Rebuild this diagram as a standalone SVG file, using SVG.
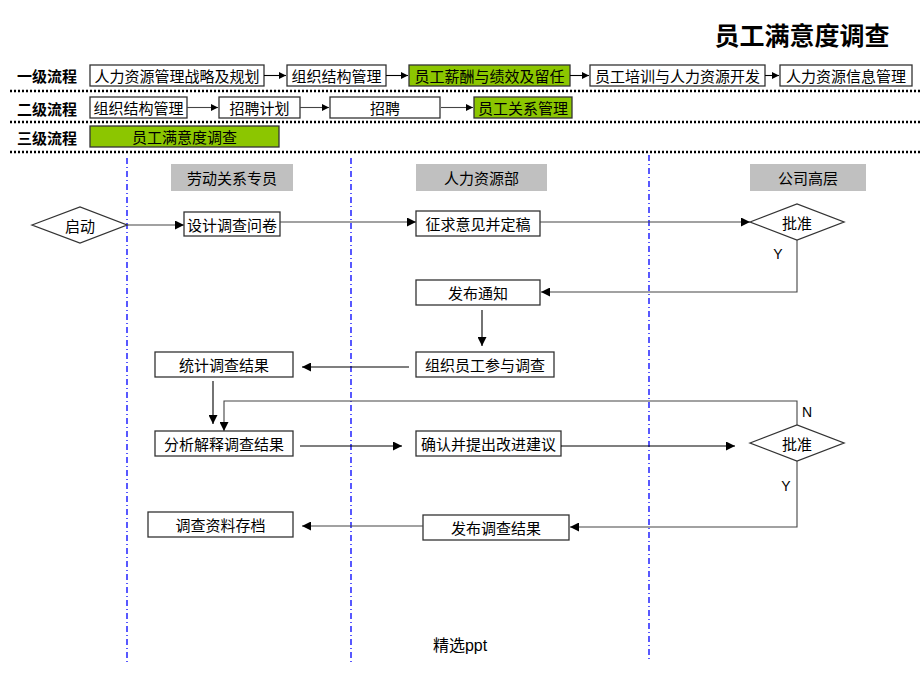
<svg xmlns="http://www.w3.org/2000/svg" width="920" height="690" viewBox="0 0 920 690">
<defs>
<marker id="ah" viewBox="0 0 10 10" refX="10" refY="5" markerWidth="7" markerHeight="7" markerUnits="userSpaceOnUse" orient="auto"><path d="M0,0L10,5L0,10z" fill="#000"/></marker>
<marker id="ah2" viewBox="0 0 10 10" refX="10" refY="5" markerWidth="9" markerHeight="9" markerUnits="userSpaceOnUse" orient="auto"><path d="M0,0L10,5L0,10z" fill="#000"/></marker>
<style>
text{font-family:"Liberation Sans","Noto Sans CJK SC",sans-serif;fill:#000}
.cn{font-family:"Noto Sans CJK SC","Liberation Sans",sans-serif;font-size:15px;text-anchor:middle;dominant-baseline:central}
.lbl{font-family:"Noto Sans CJK SC",sans-serif;font-size:15px;font-weight:bold;dominant-baseline:central}
.box{fill:#fff;stroke:#333;stroke-width:1.3}
.grn{fill:#8cc600;stroke:#333;stroke-width:1.3}
.hdr{fill:#c0c0c0;stroke:none}
.dot{stroke:#000;stroke-width:2.5;stroke-dasharray:2 2}
.lane{stroke:#0000ff;stroke-width:1.3;stroke-dasharray:6 3 1 3}
.ln{fill:none;stroke:#000;stroke-width:1.1}
.ln2{fill:none;stroke:#444;stroke-width:1.1}
.yn{font-family:"Liberation Sans",sans-serif;font-size:14px;text-anchor:middle;dominant-baseline:central}
</style>
</defs>
<rect width="920" height="690" fill="#fff"/>
<text x="802" y="36" font-family="Noto Sans CJK SC,sans-serif" font-size="25" font-weight="bold" text-anchor="middle" dominant-baseline="central">员工满意度调查</text>

<g id="levels">
<text class="lbl" x="17" y="75">一级流程</text>
<text class="lbl" x="17" y="108">二级流程</text>
<text class="lbl" x="17" y="137">三级流程</text>
<line class="dot" x1="10" y1="91" x2="920" y2="91"/>
<line class="dot" x1="10" y1="122" x2="920" y2="122"/>
<line class="dot" x1="10" y1="152" x2="920" y2="152"/>
</g>

<g id="l1-1"><rect class="box" x="90" y="65" width="174" height="21"/><text class="cn" x="177" y="75.5">人力资源管理战略及规划</text></g>
<g id="l1-2"><rect class="box" x="287" y="65" width="99" height="21"/><text class="cn" x="336.5" y="75.5">组织结构管理</text></g>
<g id="l1-3"><rect class="grn" x="409" y="65" width="161" height="21"/><text class="cn" x="489.5" y="75.5">员工薪酬与绩效及留任</text></g>
<g id="l1-4"><rect class="box" x="590" y="65" width="175" height="21"/><text class="cn" x="677.5" y="75.5">员工培训与人力资源开发</text></g>
<g id="l1-5"><rect class="box" x="780" y="65" width="132" height="21"/><text class="cn" x="846" y="75.5">人力资源信息管理</text></g>

<g id="l2-1"><rect class="box" x="90" y="97" width="97" height="21"/><text class="cn" x="138.5" y="107.5">组织结构管理</text></g>
<g id="l2-2"><rect class="box" x="219" y="97" width="81" height="21"/><text class="cn" x="259.5" y="107.5">招聘计划</text></g>
<g id="l2-3"><rect class="box" x="330" y="97" width="110" height="21"/><text class="cn" x="385" y="107.5">招聘</text></g>
<g id="l2-4"><rect class="grn" x="474" y="97" width="98" height="21"/><text class="cn" x="523" y="107.5">员工关系管理</text></g>

<g id="l3-1"><rect class="grn" x="90" y="126" width="189" height="21"/><text class="cn" x="184.5" y="136.5">员工满意度调查</text></g>

<g id="lanes">
<line class="lane" x1="127" y1="158" x2="127" y2="662"/>
<line class="lane" x1="351" y1="158" x2="351" y2="662"/>
<line class="lane" x1="649" y1="155" x2="649" y2="662"/>
</g>

<g id="h1"><rect class="hdr" x="171" y="164" width="122" height="27"/><text class="cn" x="232" y="177.5" font-size="14">劳动关系专员</text></g>
<g id="h2"><rect class="hdr" x="416" y="164" width="131" height="27"/><text class="cn" x="481.5" y="177.5" font-size="14">人力资源部</text></g>
<g id="h3"><rect class="hdr" x="750" y="164" width="116" height="27"/><text class="cn" x="808" y="177.5" font-size="14">公司高层</text></g>

<g id="start"><polygon class="box" points="32,225 80,207 127,225 80,243"/><text class="cn" x="80" y="225">启动</text></g>
<g id="design"><rect class="box" x="184" y="212" width="96" height="24"/><text class="cn" x="232" y="224">设计调查问卷</text></g>
<g id="solicit"><rect class="box" x="416" y="211" width="124" height="25"/><text class="cn" x="478" y="223.5">征求意见并定稿</text></g>
<g id="approve1"><polygon class="box" points="750,222 797,204 844,222 797,240"/><text class="cn" x="797" y="222">批准</text></g>
<g id="notify"><rect class="box" x="416" y="280" width="124" height="25"/><text class="cn" x="478" y="292.5">发布通知</text></g>
<g id="organize"><rect class="box" x="416" y="352" width="138" height="25"/><text class="cn" x="485" y="364.5">组织员工参与调查</text></g>
<g id="stats"><rect class="box" x="155" y="352" width="138" height="25"/><text class="cn" x="224" y="364.5">统计调查结果</text></g>
<g id="analyze"><rect class="box" x="155" y="431" width="138" height="25"/><text class="cn" x="224" y="443.5">分析解释调查结果</text></g>
<g id="confirm"><rect class="box" x="416" y="431" width="145" height="25"/><text class="cn" x="488.5" y="443.5">确认并提出改进建议</text></g>
<g id="approve2"><polygon class="box" points="750,443 797,425 844,443 797,461"/><text class="cn" x="797" y="443">批准</text></g>
<g id="publish"><rect class="box" x="423" y="515" width="146" height="25"/><text class="cn" x="496" y="527.5">发布调查结果</text></g>
<g id="archive"><rect class="box" x="148" y="512" width="145" height="25"/><text class="cn" x="220.5" y="524.5">调查资料存档</text></g>

<g id="connectors">
<line class="ln" x1="264" y1="75.5" x2="286" y2="75.5" marker-end="url(#ah)"/>
<line class="ln" x1="386" y1="75.5" x2="408" y2="75.5" marker-end="url(#ah)"/>
<line class="ln" x1="570" y1="75.5" x2="589" y2="75.5" marker-end="url(#ah)"/>
<line class="ln" x1="765" y1="75.5" x2="779" y2="75.5" marker-end="url(#ah)"/>
<line class="ln2" x1="187" y1="107.5" x2="218" y2="107.5" marker-end="url(#ah)"/>
<line class="ln2" x1="300" y1="107.5" x2="329" y2="107.5" marker-end="url(#ah)"/>
<line class="ln2" x1="441" y1="107.5" x2="473" y2="107.5" marker-end="url(#ah)"/>

<line class="ln2" x1="127" y1="225" x2="184" y2="225" marker-end="url(#ah2)"/>
<line class="ln2" x1="280" y1="222" x2="416" y2="222" marker-end="url(#ah2)"/>
<line class="ln2" x1="540" y1="222" x2="750" y2="222" marker-end="url(#ah2)"/>
<polyline class="ln2" points="797,240 797,292 541,292" marker-end="url(#ah2)"/>
<line class="ln" x1="482" y1="310" x2="482" y2="346" marker-end="url(#ah2)"/>
<line class="ln" x1="409" y1="367" x2="302" y2="367" marker-end="url(#ah2)"/>
<line class="ln" x1="213" y1="381" x2="213" y2="424" marker-end="url(#ah2)"/>
<polyline class="ln2" points="797,425 797,401 224,401 224,431" marker-end="url(#ah2)"/>
<line class="ln" x1="300" y1="446" x2="402" y2="446" marker-end="url(#ah2)"/>
<line class="ln" x1="561" y1="446" x2="735" y2="446" marker-end="url(#ah2)"/>
<polyline class="ln2" points="797,461 797,527 570,527" marker-end="url(#ah2)"/>
<line class="ln2" x1="423" y1="526" x2="302" y2="526" marker-end="url(#ah2)"/>
</g>

<text class="yn" x="778" y="254">Y</text>
<text class="yn" x="807" y="412">N</text>
<text class="yn" x="786" y="486">Y</text>

<text x="460" y="645" font-family="Noto Sans CJK SC,Liberation Sans,sans-serif" font-size="16" fill="#333" text-anchor="middle" dominant-baseline="central">精选ppt</text>
</svg>
